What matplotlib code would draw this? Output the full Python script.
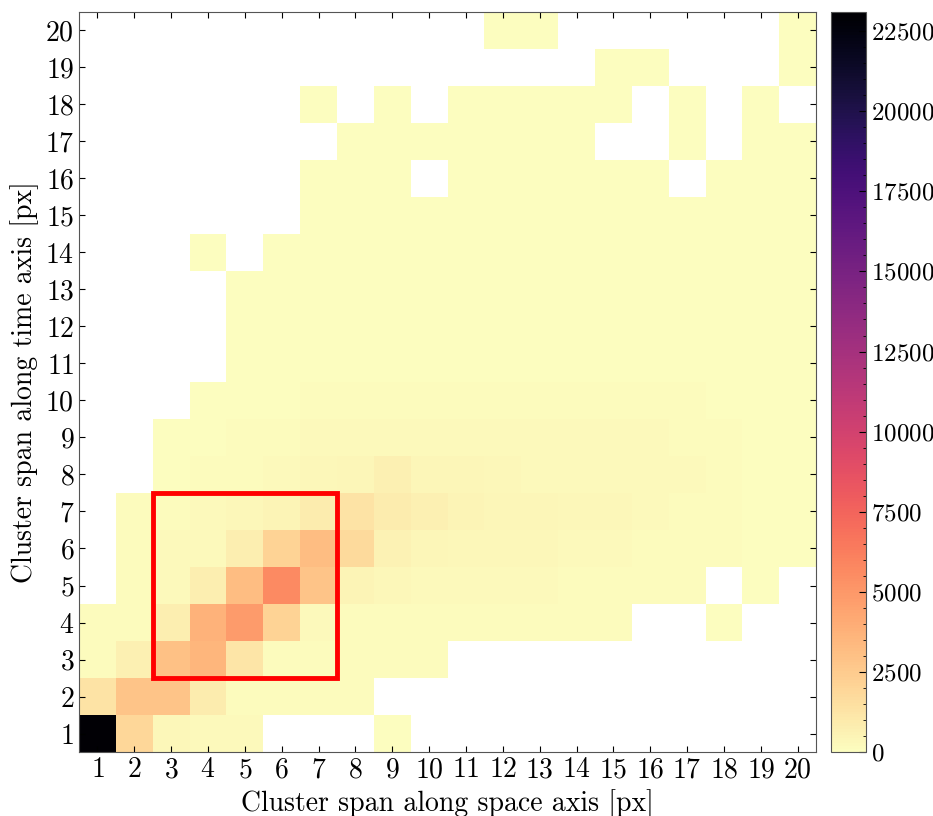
#!/usr/bin/env python3
import numpy as np
import matplotlib
matplotlib.use('Agg')
import matplotlib.pyplot as plt
from matplotlib.patches import Rectangle
from matplotlib.ticker import MultipleLocator

plt.rcParams['font.family'] = 'serif'
plt.rcParams['font.serif'] = ['cmr10']
plt.rcParams['mathtext.fontset'] = 'cm'
plt.rcParams['axes.formatter.use_mathtext'] = True

# cluster span along space axis (x) and time axis (y), 1..20 px
spanSpace = np.arange(1, 21)
spanTime = np.arange(1, 21)

# counts, one list per time span (y = 1 first), columns are space span 1..20
counts = [
    [23000, 1900, 300, 200, 200, 0, 0, 0, 60, 0, 0, 0, 0, 0, 0, 0, 0, 0, 0, 0],
    [1300, 2800, 2800, 900, 150, 150, 150, 150, 0, 0, 0, 0, 0, 0, 0, 0, 0, 0, 0, 0],
    [150, 700, 3000, 3600, 1200, 150, 150, 100, 100, 100, 0, 0, 0, 0, 0, 0, 0, 0, 0, 0],
    [100, 150, 800, 3700, 4800, 2100, 200, 100, 100, 100, 100, 100, 100, 100, 100, 0, 0, 20, 0, 0],
    [0, 120, 200, 800, 3200, 5600, 2800, 500, 300, 250, 200, 200, 200, 150, 150, 100, 100, 0, 20, 0],
    [0, 100, 200, 250, 800, 2100, 3200, 1800, 600, 400, 350, 350, 350, 250, 200, 150, 150, 100, 80, 50],
    [0, 100, 150, 200, 350, 500, 900, 1300, 900, 700, 500, 400, 400, 350, 350, 200, 150, 100, 80, 50],
    [0, 0, 80, 100, 150, 250, 350, 400, 650, 450, 400, 300, 250, 250, 250, 250, 200, 100, 80, 50],
    [0, 0, 60, 80, 100, 150, 200, 200, 200, 200, 200, 200, 200, 200, 200, 200, 150, 100, 70, 50],
    [0, 0, 0, 60, 70, 80, 150, 150, 150, 150, 150, 150, 150, 150, 150, 150, 120, 80, 60, 40],
    [0, 0, 0, 0, 50, 50, 60, 60, 60, 60, 60, 60, 60, 60, 60, 60, 50, 50, 50, 40],
    [0, 0, 0, 0, 40, 50, 50, 50, 50, 50, 50, 50, 50, 50, 50, 50, 50, 40, 40, 30],
    [0, 0, 0, 0, 30, 40, 40, 40, 40, 40, 40, 40, 40, 40, 40, 40, 40, 30, 30, 20],
    [0, 0, 0, 10, 0, 30, 30, 30, 30, 30, 30, 30, 30, 30, 30, 30, 30, 20, 20, 20],
    [0, 0, 0, 0, 0, 0, 20, 20, 20, 20, 20, 20, 20, 20, 20, 20, 20, 20, 20, 20],
    [0, 0, 0, 0, 0, 0, 20, 20, 20, 0, 20, 20, 20, 20, 20, 20, 0, 15, 15, 10],
    [0, 0, 0, 0, 0, 0, 0, 15, 15, 15, 15, 15, 15, 15, 0, 0, 10, 0, 10, 10],
    [0, 0, 0, 0, 0, 0, 10, 0, 10, 0, 10, 10, 10, 10, 10, 0, 10, 0, 10, 0],
    [0, 0, 0, 0, 0, 0, 0, 0, 0, 0, 0, 0, 0, 0, 5, 5, 0, 0, 0, 5],
    [0, 0, 0, 0, 0, 0, 0, 0, 0, 0, 0, 5, 5, 0, 0, 0, 0, 0, 0, 5],
]

# region of interest
roiSpace = (3, 7)
roiTime = (3, 7)

vmax = 23100


def main():
    data = np.ma.masked_equal(np.array(counts, dtype=float), 0)

    fig = plt.figure(figsize=(9.33, 8.16), dpi=100)
    ax = fig.add_axes([0.0847, 0.0784, 0.790, 0.907])
    cax = fig.add_axes([0.8907, 0.0784, 0.0375, 0.907])

    edgesX = np.append(spanSpace - 0.5, spanSpace[-1] + 0.5)
    edgesY = np.append(spanTime - 0.5, spanTime[-1] + 0.5)
    mesh = ax.pcolormesh(edgesX, edgesY, data, cmap='magma_r', vmin=0, vmax=vmax)

    ax.add_patch(Rectangle((roiSpace[0] - 0.5, roiTime[0] - 0.5),
                           roiSpace[1] - roiSpace[0] + 1, roiTime[1] - roiTime[0] + 1,
                           fill=False, edgecolor='red', linewidth=3.5))

    ax.set_xlim(0.5, 20.5)
    ax.set_ylim(0.5, 20.5)
    ax.set_xticks(spanSpace)
    ax.set_yticks(spanTime)
    ax.tick_params(direction='in', top=True, right=True, labelsize=20, length=4)
    ax.set_xlabel('Cluster span along space axis [px]', fontsize=20)
    ax.set_ylabel('Cluster span along time axis [px]', fontsize=20)
    for s in ax.spines.values():
        s.set_color('#555555')

    cb = fig.colorbar(mesh, cax=cax)
    cb.set_ticks(np.arange(0, 22501, 2500))
    cb.ax.yaxis.set_minor_locator(MultipleLocator(500))
    cb.ax.tick_params(which='both', direction='in', labelsize=18)
    cb.ax.tick_params(which='major', length=5)
    cb.ax.tick_params(which='minor', length=2.5)
    cb.outline.set_edgecolor('#555555')

    fig.savefig('out.png', dpi=100)

    return 0


if __name__ == '__main__':
    main()
